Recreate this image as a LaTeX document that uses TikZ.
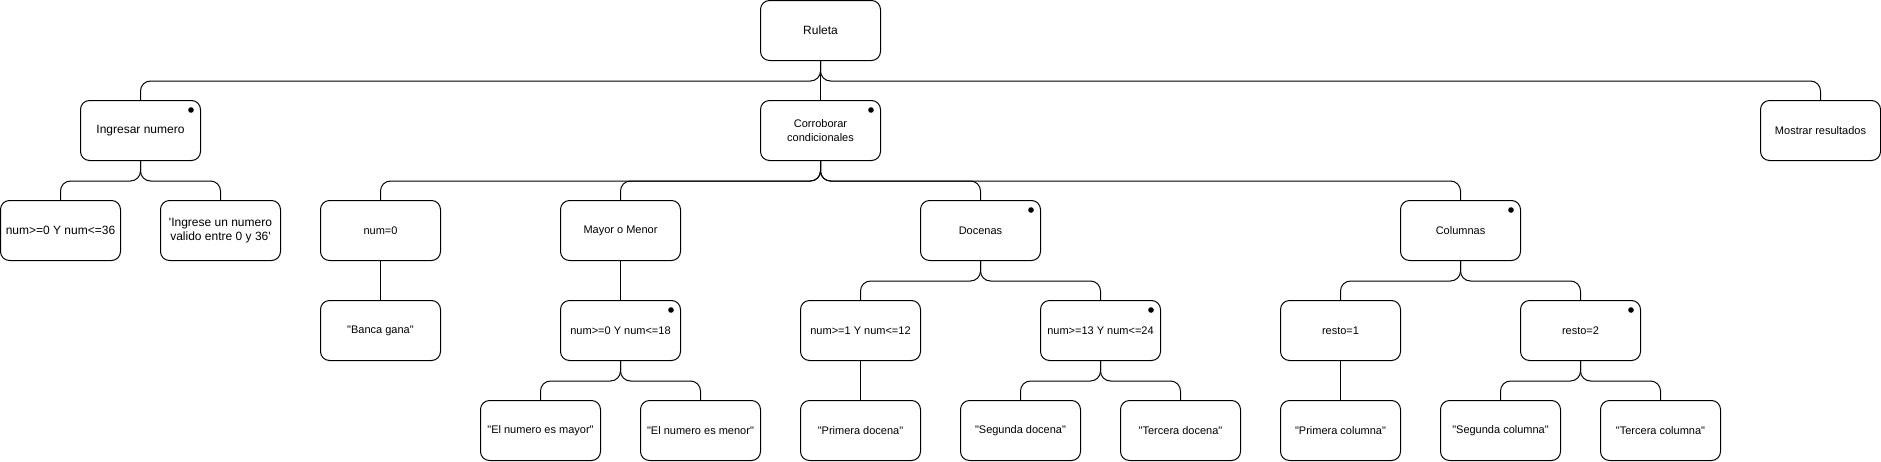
\documentclass[tikz,border=0pt]{standalone}
\usepackage{fontspec}
\setmainfont{Liberation Sans}
\newcommand\qd{\textquotedbl}
\begin{document}
\begin{tikzpicture}[x=0.75pt,y=-0.75pt,
  box/.style={draw, line width=0.75pt, rounded corners=6.75pt, minimum width=90pt, minimum height=45pt, inner sep=0pt, align=center, font=\fontsize{8.25}{10.5}\selectfont},
  big/.style={font=\fontsize{9}{11}\selectfont},
  edge/.style={draw, line width=0.75pt, rounded corners=7.5pt},
  mk/.style={fill=black}]
\useasboundingbox (0,0) rectangle (1881,461);
% level 0
\node[box,big] (rul) at (820.5,30.5) {Ruleta};
% level 1
\node[box,big] (ing) at (140.5,130.5) {Ingresar numero};
\node[box] (cor) at (820.5,130.5) {Corroborar\\condicionales};
\node[box] (mos) at (1820.5,130.5) {Mostrar resultados};
% level 2
\node[box,big] (n36) at (60.5,230.5) {num>=0 Y num<=36};
\node[box,big] (ingv) at (220.5,230.5) {\textquotesingle Ingrese un numero\\valido entre 0 y 36\textquotesingle};
\node[box] (n0) at (380.5,230.5) {num=0};
\node[box] (may) at (620.5,230.5) {Mayor o Menor};
\node[box] (doc) at (980.5,230.5) {Docenas};
\node[box] (col) at (1460.5,230.5) {Columnas};
% level 3
\node[box] (ban) at (380.5,330.5) {\qd Banca gana\qd};
\node[box] (n18) at (620.5,330.5) {num>=0 Y num<=18};
\node[box] (n12) at (860.5,330.5) {num>=1 Y num<=12};
\node[box] (n24) at (1100.5,330.5) {num>=13 Y num<=24};
\node[box] (r1) at (1340.5,330.5) {resto=1};
\node[box] (r2) at (1580.5,330.5) {resto=2};
% level 4
\node[box] (mayr) at (540.5,430.5) {\qd El numero es mayor\qd};
\node[box] (menr) at (700.5,430.5) {\qd El numero es menor\qd};
\node[box] (pdoc) at (860.5,430.5) {\qd Primera docena\qd};
\node[box] (sdoc) at (1020.5,430.5) {\qd Segunda docena\qd};
\node[box] (tdoc) at (1180.5,430.5) {\qd Tercera docena\qd};
\node[box] (pcol) at (1340.5,430.5) {\qd Primera columna\qd};
\node[box] (scol) at (1500.5,430.5) {\qd Segunda columna\qd};
\node[box] (tcol) at (1660.5,430.5) {\qd Tercera columna\qd};
% edges
\draw[edge] (rul.south) -- ++(0,20) -| (ing.north);
\draw[edge] (rul.south) -- (cor.north);
\draw[edge] (rul.south) -- ++(0,20) -| (mos.north);
\draw[edge] (ing.south) -- ++(0,20) -| (n36.north);
\draw[edge] (ing.south) -- ++(0,20) -| (ingv.north);
\draw[edge] (cor.south) -- ++(0,20) -| (n0.north);
\draw[edge] (cor.south) -- ++(0,20) -| (may.north);
\draw[edge] (cor.south) -- ++(0,20) -| (doc.north);
\draw[edge] (cor.south) -- ++(0,20) -| (col.north);
\draw[edge] (n0.south) -- (ban.north);
\draw[edge] (may.south) -- (n18.north);
\draw[edge] (doc.south) -- ++(0,20) -| (n12.north);
\draw[edge] (doc.south) -- ++(0,20) -| (n24.north);
\draw[edge] (col.south) -- ++(0,20) -| (r1.north);
\draw[edge] (col.south) -- ++(0,20) -| (r2.north);
\draw[edge] (n18.south) -- ++(0,20) -| (mayr.north);
\draw[edge] (n18.south) -- ++(0,20) -| (menr.north);
\draw[edge] (n12.south) -- (pdoc.north);
\draw[edge] (n24.south) -- ++(0,20) -| (sdoc.north);
\draw[edge] (n24.south) -- ++(0,20) -| (tdoc.north);
\draw[edge] (r1.south) -- (pcol.north);
\draw[edge] (r2.south) -- ++(0,20) -| (scol.north);
\draw[edge] (r2.south) -- ++(0,20) -| (tcol.north);
% markers
\foreach \n in {ing,cor,doc,col,n18,n24,r2}
  \fill[mk] ([shift={(-10,10)}]\n.north east) circle[radius=2.1pt];
\end{tikzpicture}
\end{document}
